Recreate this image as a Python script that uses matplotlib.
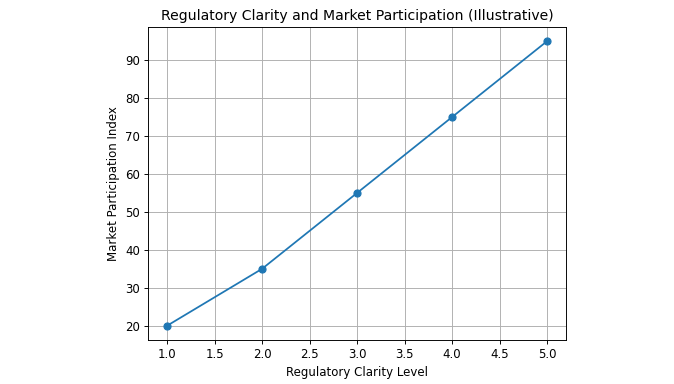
import matplotlib
matplotlib.use("Agg")
import matplotlib.pyplot as plt

# Illustrative data
clarity_level = [1, 2, 3, 4, 5]
participation_index = [20, 35, 55, 75, 95]

dpi = 84.25
fig = plt.figure(figsize=(674 / dpi, 384 / dpi), dpi=dpi)
ax = fig.add_axes([0.2196, 0.1146, 0.6202, 0.8151])

ax.plot(clarity_level, participation_index, marker="o")
ax.set_title("Regulatory Clarity and Market Participation (Illustrative)")
ax.set_xlabel("Regulatory Clarity Level")
ax.set_ylabel("Market Participation Index")
ax.grid(True)

fig.savefig("out.png", dpi=dpi)
